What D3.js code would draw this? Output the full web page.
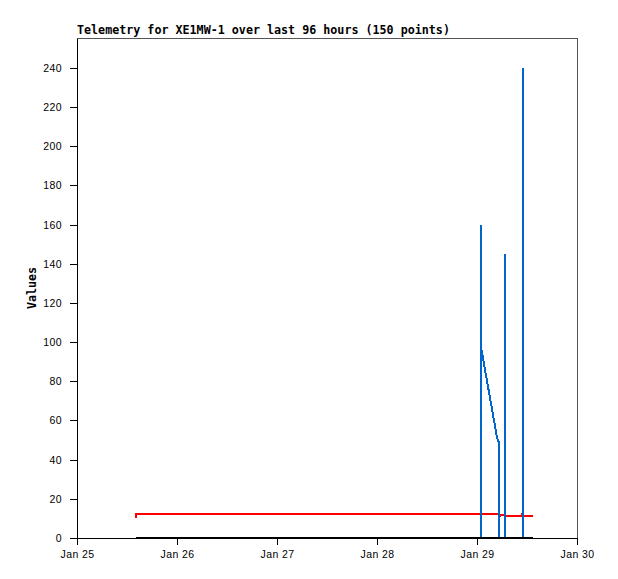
<!DOCTYPE html>
<html>
<head>
<meta charset="utf-8">
<script src="https://cdn.jsdelivr.net/npm/d3@7"></script>
<style>
  html, body { margin: 0; padding: 0; background: #fff; }
  svg { display: block; }
</style>
</head>
<body>
<svg id="chart" width="618" height="579"></svg>
<script>
// ---- data ----
const titleText = "Telemetry for XE1MW-1 over last 96 hours (150 points)";
const yLabel = "Values";
const xDomain = ["2024-01-25 00:00", "2024-01-30 00:00"];
const yTicks = [0, 20, 40, 60, 80, 100, 120, 140, 160, 180, 200, 220, 240];
const yMax = 255.3;

const blueTimes = ["2024-01-25 14:10", "2024-01-29 00:55", "2024-01-29 00:58", "2024-01-29 01:05",
  "2024-01-29 01:12", "2024-01-29 01:20", "2024-01-29 01:35", "2024-01-29 01:50", "2024-01-29 02:05",
  "2024-01-29 02:20", "2024-01-29 02:35", "2024-01-29 02:50", "2024-01-29 03:05", "2024-01-29 03:20",
  "2024-01-29 03:35", "2024-01-29 03:50", "2024-01-29 04:05", "2024-01-29 04:20", "2024-01-29 04:35",
  "2024-01-29 04:50", "2024-01-29 05:12", "2024-01-29 05:14", "2024-01-29 06:40", "2024-01-29 06:43",
  "2024-01-29 06:46", "2024-01-29 10:58", "2024-01-29 11:02", "2024-01-29 11:05", "2024-01-29 13:26"];
const blueValues = [0, 0, 160, 95,
  96, 93, 90, 87, 84,
  81, 78, 75, 72, 69,
  66, 63, 60, 57, 54,
  51, 49, 0, 0, 145,
  0, 0, 240, 0, 0];

const redTimes = ["2024-01-25 14:10", "2024-01-25 14:12", "2024-01-29 05:25", "2024-01-29 05:30",
  "2024-01-29 05:50", "2024-01-29 06:30", "2024-01-29 06:40", "2024-01-29 10:35", "2024-01-29 10:40",
  "2024-01-29 10:48", "2024-01-29 13:26"];
const redValues = [10.3, 12, 12, 11, 11.6, 11.5, 11, 11, 11.6, 11, 11];

const blackTimes = ["2024-01-25 14:10", "2024-01-27 12:00", "2024-01-29 13:26"];
const blackValues = [0, 0, 0];

// ---- chart ----
const parse = d3.timeParse("%Y-%m-%d %H:%M");
const svg = d3.select("#chart");
const L = 77, R = 577, T = 38, B = 538;

const x = d3.scaleTime().domain(xDomain.map(parse)).range([L, R]);
const y = d3.scaleLinear().domain([0, yMax]).range([B, T]);

const mk = (ts, vs) => ts.map((t, i) => ({ t: parse(t), v: vs[i] }));
const line = d3.line().x(d => x(d.t)).y(d => y(d.v));

// frame
svg.append("rect").attr("x", L).attr("y", T).attr("width", R - L).attr("height", B - T)
  .attr("fill", "none").attr("stroke", "#555").attr("stroke-width", 1)
  .attr("shape-rendering", "crispEdges");

// title
svg.append("text").attr("x", L).attr("y", 34)
  .attr("font-family", "DejaVu Sans Mono").attr("font-weight", "bold").attr("font-size", 11.7)
  .attr("fill", "#000").text(titleText);

// y label
svg.append("text").attr("transform", `translate(36,${(T + B) / 2}) rotate(-90)`)
  .attr("text-anchor", "middle")
  .attr("font-family", "DejaVu Sans Mono").attr("font-weight", "bold").attr("font-size", 11.7)
  .attr("fill", "#000").text(yLabel);

// axes
const xAxis = d3.axisBottom(x).ticks(d3.timeDay.every(1)).tickFormat(d3.timeFormat("%b %d"))
  .tickSizeInner(7).tickSizeOuter(0).tickPadding(6);
const gx = svg.append("g").attr("transform", `translate(0,${B})`).call(xAxis);
const yAxis = d3.axisLeft(y).tickValues(yTicks).tickSizeInner(7).tickSizeOuter(0).tickPadding(8);
const gy = svg.append("g").attr("transform", `translate(${L},0)`).call(yAxis);
[gx, gy].forEach(g => {
  g.selectAll("text").attr("font-family", "Liberation Sans").attr("font-size", 10.5)
    .attr("fill", "#000").style("letter-spacing", "0.4px");
  g.selectAll("line, path").attr("stroke", "#000").attr("shape-rendering", "crispEdges");
});

// series
svg.append("path").datum(mk(redTimes, redValues)).attr("d", line)
  .attr("fill", "none").attr("stroke", "#ff0000").attr("stroke-width", 2)
  .attr("shape-rendering", "crispEdges");
svg.append("path").datum(mk(blueTimes, blueValues)).attr("d", line)
  .attr("fill", "none").attr("stroke", "#0066cc").attr("stroke-width", 2)
  .attr("shape-rendering", "crispEdges");
svg.append("path").datum(mk(blackTimes, blackValues)).attr("d", line)
  .attr("fill", "none").attr("stroke", "#000").attr("stroke-width", 2.5)
  .attr("shape-rendering", "crispEdges");
</script>
</body>
</html>
